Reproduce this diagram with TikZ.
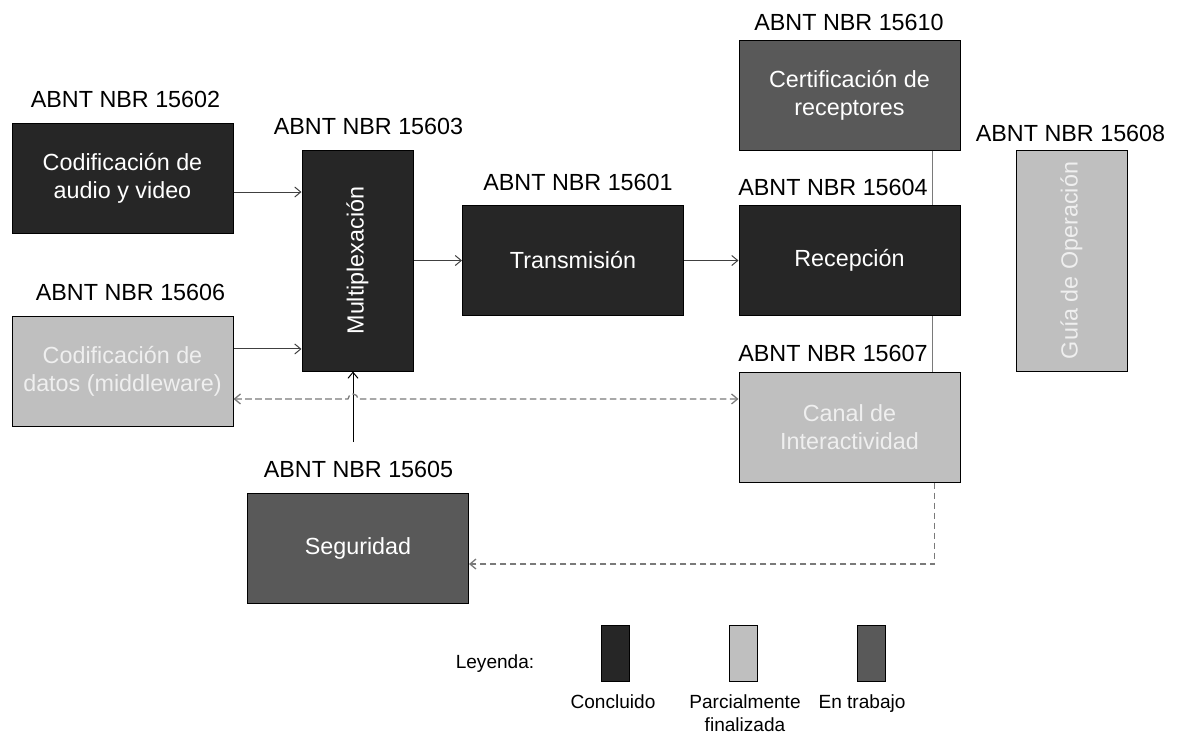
\documentclass[tikz,border=0pt]{standalone}
\usepackage{fontspec}
\setmainfont{Liberation Sans}
\usetikzlibrary{arrows.meta}
\definecolor{done}{HTML}{262626}
\definecolor{partial}{HTML}{BFBFBF}
\definecolor{working}{HTML}{595959}
\definecolor{wire}{HTML}{404040}
\definecolor{dashwire}{HTML}{7A7A7A}
\definecolor{paletext}{HTML}{EFEFEF}
\tikzset{barb/.tip={Straight Barb[length=4.5pt,width=7.5pt]}}

\begin{document}
\begin{tikzpicture}[x=0.75pt,y=-0.75pt,
  box/.style={draw=black, line width=0.75pt, text=white, align=center, inner sep=0pt,
    font=\fontsize{17.5}{20.8}\selectfont},
  wide/.style={minimum width=165.75pt, minimum height=82.5pt},
  tall/.style={minimum width=83.25pt, minimum height=165.75pt},
  doneb/.style={box, fill=done},
  partb/.style={box, fill=partial, text=paletext},
  workb/.style={box, fill=working},
  std/.style={anchor=base, font=\fontsize{17.5}{21}\selectfont, inner sep=0pt},
  leg/.style={anchor=base, font=\fontsize{14.3}{17}\selectfont, inner sep=0pt},
  swatch/.style={draw=black, line width=0.75pt, minimum width=21pt, minimum height=42pt, inner sep=0pt},
  flow/.style={draw=wire, line width=0.75pt, -barb},
  link/.style={draw=dashwire, line width=0.75pt},
  dflow/.style={draw=dashwire, line width=0.95pt, dash pattern=on 5pt off 2.5pt}
]
\useasboundingbox (0,0) rectangle (1181,733);

% blocks
\node[doneb, wide] (aud) at (122.5,178) {Codificación de\\audio y video};
\node[partb, wide] (dat) at (122.5,371.5) {Codificación de\\datos (middleware)};
\node[doneb, tall] (mux) at (357.5,260.5) {\rotatebox{90}{Multiplexación}};
\node[doneb, wide] (tx) at (573,260.5) {Transmisión};
\node[doneb, wide] (rx) at (849.5,260.5) {Recepción};
\node[workb, wide] (cert) at (849.5,95) {Certificación de\\receptores};
\node[partb, wide] (canal) at (849.5,427) {Canal de\\Interactividad};
\node[partb, tall] (guia) at (1071.5,260.5) {\rotatebox{90}{Guía de Operación}};
\node[workb, wide] (seg) at (358,548) {Seguridad};

% standard numbers
\node[std] (n02) at (125.5,107) {ABNT NBR 15602};
\node[std] (n03) at (368.5,134) {ABNT NBR 15603};
\node[std] (n06) at (130.5,300) {ABNT NBR 15606};
\node[std] (n01) at (578,190.5) {ABNT NBR 15601};
\node[std] (n04) at (833,195) {ABNT NBR 15604};
\node[std] (n10) at (849,30.5) {ABNT NBR 15610};
\node[std] (n07) at (833,361.5) {ABNT NBR 15607};
\node[std] (n08) at (1070.5,141.5) {ABNT NBR 15608};
\node[std] (n05) at (358.5,477) {ABNT NBR 15605};

% connectors
\coordinate (ain) at ([yshift=-10.5pt]aud.east);
\coordinate (din) at ([yshift=16.9pt]dat.east);
\draw[flow] (ain) -- (ain -| mux.west);
\draw[flow] (din) -- (din -| mux.west);
\draw[flow] (mux) -- (tx);
\draw[flow] (tx) -- (rx);

\coordinate (cx) at ([xshift=62.6pt]cert.south);
\draw[link] (cx) -- (cx |- rx.north);
\coordinate (rxb) at ([xshift=62.6pt]rx.south);
\draw[link] (rxb) -- (rxb |- canal.north);

\coordinate (vs) at (353,442);
\draw[flow, draw=black] (vs) -- (vs |- mux.south);

\coordinate (dl) at ([yshift=-20.6pt]dat.east);
\coordinate (hopa) at ([xshift=-3.75pt]dl -| vs);
\draw[dflow, barb-barb] (dl) -- (hopa) arc[start angle=180, end angle=0, radius=3.75pt]
  -- (dl -| canal.west);

\coordinate (cs) at ([xshift=64pt]canal.south);
\coordinate (sg) at ([yshift=-12pt]seg.east);
\draw[dflow, -barb] (cs) |- (sg);

% legend
\node[leg] (ley) at (495,668) {Leyenda:};
\node[swatch, fill=done] (s1) at (615,653) {};
\node[swatch, fill=partial] (s2) at (743,653) {};
\node[swatch, fill=working] (s3) at (871,653) {};
\node[leg] (l1) at (613,708) {Concluido};
\node[leg] (l2) at (745,708) {Parcialmente};
\node[leg] (l2b) at (745,731) {finalizada};
\node[leg] (l3) at (862,708) {En trabajo};
\end{tikzpicture}
\end{document}
